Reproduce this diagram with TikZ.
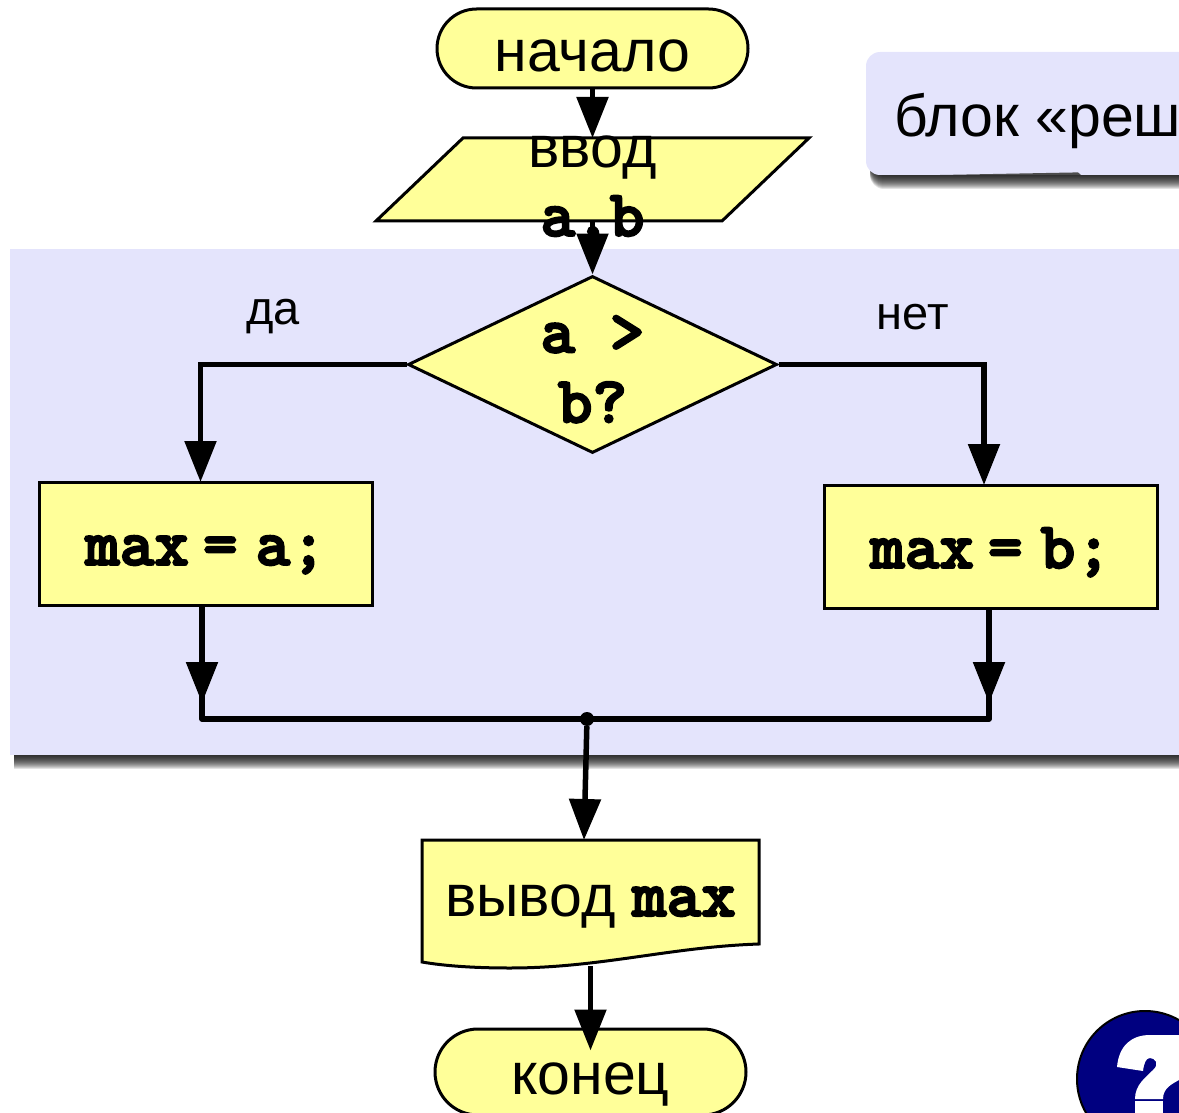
\documentclass[tikz,border=0pt]{standalone}
\usepackage{fontspec}
\setmainfont{Liberation Sans}
\setmonofont{Latin Modern Mono Light}[BoldFeatures={FakeBold=3}]
\usetikzlibrary{arrows.meta,shapes.geometric,shapes.misc}

\newcommand{\labelfont}{\fontsize{59}{70}\selectfont}
\newcommand{\smallfont}{\fontsize{47}{50}\selectfont}
\newcommand{\codefont}{\fontsize{66}{70}\selectfont\ttfamily\bfseries}

\definecolor{panelblue}{HTML}{E4E4FC}
\definecolor{blockyellow}{HTML}{FFFF99}
\definecolor{badgeblue}{HTML}{000080}

\tikzset{
	block/.style={draw=black, line width=3pt, fill=blockyellow, inner sep=0pt, font=\labelfont, text height=43pt, text depth=0pt},
	terminal/.style={block, rounded rectangle, minimum width=311pt, minimum height=79pt, text height=47pt},
	action/.style={block, rectangle, minimum width=333pt, minimum height=123pt, font=\codefont},
	caption/.style={inner sep=0pt, anchor=base},
	flowline/.style={line width=5.5pt, line join=round},
	flow/.style={line width=5.5pt, -{Triangle[length=41pt,width=31pt]}},
}

\begin{document}
\begin{tikzpicture}[x=1pt, y=-1pt]
	
	\useasboundingbox (0,0) rectangle (1179,1113);
	
	% Panels
	\foreach \i in {1,...,14}{
		\fill[black, opacity=0.11] (14,300) rectangle (1200,755+\i);
		\fill[black, opacity=0.11, rounded corners=14pt] (870,100) rectangle (1200,175+\i);
	}
	\fill[panelblue] (10,249) rectangle (1200,755);
	\fill[panelblue, rounded corners=14pt] (866,52) rectangle (1200,175);
	\fill[black!70] (940,175) -- (1078,172.4) -- (1081,175) --cycle;
	\node[caption, anchor=base west, font=\labelfont] (note) at (894,137) {блок «реш};
	
	% Blocks
	\node[terminal] (start) at (592.5,48.5) {начало};
	\coordinate (inputtop) at (592.5,138);
	\coordinate (inputbottom) at (592.5,221);
	\draw[line width=3pt, fill=blockyellow] (463,138) -- (809,138) -- (722,221) -- (376,221) --cycle;
	\node[caption, font=\labelfont] (inputname) at (592.5,168) {ввод};
	\node[caption, font=\codefont] (inputvars) at (592.5,236) {a,b};
	\node[block, diamond, aspect=2, minimum width=369pt, minimum height=177pt, font=\codefont, align=center, text height=116pt] (cond) at (592.5,364.5) {a >\\b?};
	\node[action] (maxa) at (205.5,543.5) {max\kern14pt=\kern18pt a\kern1pt;};
	\node[action] (maxb) at (990.5,546.5) {max\kern14pt=\kern18pt b\kern1pt;};
	\node[caption, font=\smallfont] (yes) at (273,324) {да};
	\node[caption, font=\smallfont] (no) at (913,329) {нет};
	
	% Output block
	\coordinate (outbottom) at (590.5,966);
	\draw[line width=3pt, fill=blockyellow] (422,840) -- (759,840) -- (759,944)
		.. controls (670,947) and (600,968) .. (510,968)
		.. controls (475,968) and (445,966) .. (422,962) --cycle;
	\node[caption, font=\labelfont] (output) at (590.5,916) {вывод {\codefont max}};
	\coordinate (outtop) at (584,840);
	\node[terminal, minimum height=86pt, text height=45pt] (stop) at (590.5,1072) {конец};
	
	% Merge line
	\coordinate (yestop) at (200.5,482);
	\coordinate (notop) at (984,485);
	\coordinate (mergea) at (202,719);
	\coordinate (mergeb) at (989,719);
	\coordinate (maxaout) at (202,605);
	\coordinate (maxbout) at (989,608);
	\node[circle, fill=black, inner sep=0pt, minimum size=14pt] (merge) at (587,719) {};
	\draw[flowline] (maxaout) -- (mergea) -- (mergeb) -- (maxbout);
	
	% Connectors
	\draw[flow] (start.south) -- (inputtop);
	\draw[flow] (inputbottom) -- (cond.north);
	\draw[flow] (cond.west) -| (yestop);
	\draw[flow] (cond.east) -| (notop);
	\draw[flow, shorten >=16pt] (maxaout) -- (mergea);
	\draw[flow, shorten >=16pt] (maxbout) -- (mergeb);
	\draw[flow] (merge) -- (outtop);
	\draw[flow, shorten >=-23pt] (outbottom) -- (stop.north);
	
	% Help badge
	\draw[line width=2pt, fill=badgeblue] (1145,1079) circle (68);
	\fill[white] (1117,1067) .. controls (1119,1045) and (1132,1035) .. (1150,1035)
		-- (1200,1035) -- (1200,1075) -- (1179,1080)
		.. controls (1172,1084) and (1163,1088) .. (1163,1099) -- (1135,1099)
		.. controls (1135,1085) and (1145,1078) .. (1153,1070)
		.. controls (1160,1064) and (1155,1058) .. (1150,1058)
		.. controls (1146,1058) and (1144,1063) .. (1143,1071) --cycle;
	\fill[white] (1135,1101) rectangle (1163,1120);
	
\end{tikzpicture}
\end{document}
